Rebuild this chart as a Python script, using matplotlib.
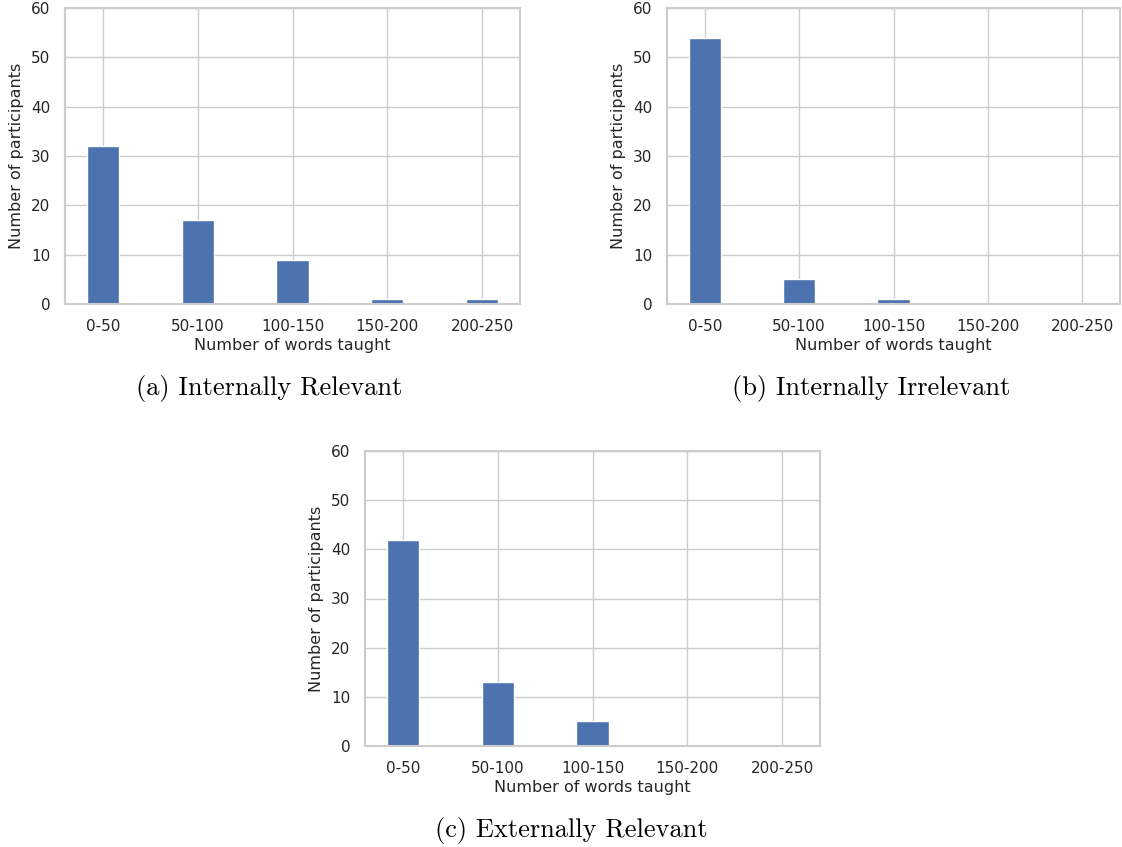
import numpy as np
import matplotlib
matplotlib.use("Agg")
import matplotlib.pyplot as plt
import seaborn as sns

sns.set_style("whitegrid")

bins = ["0-50", "50-100", "100-150", "150-200", "200-250"]
internally_relevant = [32, 17, 9, 1, 1]
internally_irrelevant = [54, 5, 1, 0, 0]
externally_relevant = [42, 13, 5, 0, 0]

W, H = 1122, 847
fig = plt.figure(figsize=(W / 100, H / 100), dpi=100)


def px_axes(left, top, right, bottom):
    return fig.add_axes([left / W, 1 - bottom / H, (right - left) / W, (bottom - top) / H])


def draw_hist(ax, counts):
    x = np.arange(len(bins))
    ax.bar(x, counts, width=0.34, color="#4c72b0", edgecolor="white", linewidth=1, zorder=2)
    ax.set_xticks(x)
    ax.set_xticklabels(bins)
    ax.set_xlim(-0.4, 4.4)
    ax.set_ylim(0, 60)
    ax.set_yticks(range(0, 61, 10))
    ax.tick_params(labelsize=11, colors="0.15", pad=7)
    ax.set_xlabel("Number of words taught", fontsize=11.5, color="0.15", labelpad=3)
    ax.set_ylabel("Number of participants", fontsize=11.5, color="0.15", labelpad=5)
    for s in ax.spines.values():
        s.set_color("#cccccc")
        s.set_linewidth(1.5)
    ax.grid(color="#cccccc", linewidth=1)
    ax.set_axisbelow(True)


panels = [
    (internally_relevant, (65, 8, 520, 304), "(a) Internally Relevant", 269, 389),
    (internally_irrelevant, (667, 8, 1120, 304), "(b) Internally Irrelevant", 871, 389),
    (externally_relevant, (365, 451, 820, 746), "(c) Externally Relevant", 571, 830),
]

for counts, box, caption, cx, cy in panels:
    ax = px_axes(*box)
    draw_hist(ax, counts)
    fig.text(cx / W, 1 - cy / H, caption, ha="center", va="center",
             fontsize=19, family="cmr10", color="black")

fig.savefig("out.png", dpi=100)
